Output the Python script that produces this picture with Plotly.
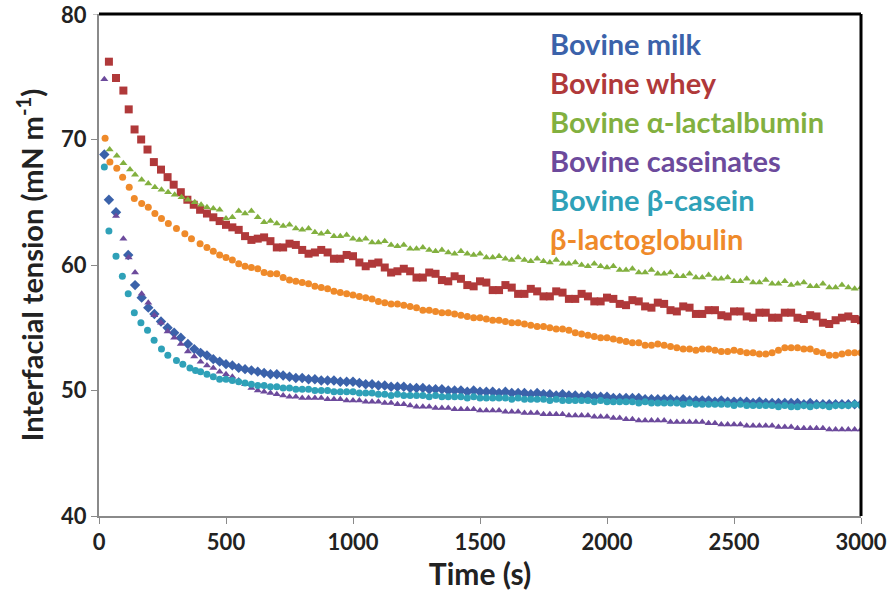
import plotly.graph_objects as go

# ---------------- data ----------------
SERIES_NAMES = ["Bovine milk", "Bovine whey", "Bovine α-lactalbumin",
                "Bovine caseinates", "Bovine β-casein", "β-lactoglobulin"]
COLORS = ["#3B62AA", "#B0393A", "#82B03F", "#6C4A9C", "#2FA1B8", "#EF8A2A"]

# common late sampling times (s)
T_LATE = list(range(425, 3001, 25))

# early part, per series
milk_t_early = [21, 39, 67, 115, 142, 168, 194, 218, 244, 270, 296, 322, 350, 375, 400]
milk_v_early = [68.8, 65.2, 64.2, 60.8, 58.4, 57.4, 56.6, 56.1, 55.5, 55.0, 54.6, 54.2, 53.7, 53.3, 53.0]

whey_t_early = [39, 67, 96, 117, 140, 166, 191, 216, 244, 270, 294, 322, 348, 373, 398]
whey_v_early = [76.2, 74.9, 73.9, 72.4, 70.8, 70.0, 69.2, 68.2, 67.6, 67.0, 66.4, 65.8, 65.2, 64.8, 64.4]

alac_t_early = [42, 70, 96, 122, 142, 168, 194, 220, 246, 272, 298, 325, 350, 377, 402]
alac_v_early = [69.2, 68.7, 68.1, 67.6, 67.2, 66.8, 66.5, 66.2, 66.0, 65.8, 65.6, 65.4, 65.2, 65.0, 64.8]

cas_t_early = [21, 67, 96, 117, 142, 168, 194, 218, 244, 270, 296, 322, 350, 375, 400]
cas_v_early = [74.8, 63.9, 62.1, 60.6, 59.4, 57.7, 57.0, 56.0, 55.4, 54.7, 54.2, 53.7, 53.1, 52.7, 52.3]

bcas_t_early = [21, 39, 67, 92, 115, 139, 165, 191, 217, 246, 271, 305, 330, 358, 380, 400]
bcas_v_early = [67.8, 62.7, 60.7, 59.1, 57.7, 56.2, 55.4, 54.8, 54.0, 53.3, 52.8, 52.4, 52.1, 51.8, 51.6, 51.5]

blg_t_early = [24, 43, 70, 93, 119, 139, 168, 194, 220, 246, 273, 305, 338, 364, 398]
blg_v_early = [70.1, 68.2, 67.7, 67.0, 66.2, 65.3, 64.9, 64.6, 64.1, 63.7, 63.3, 62.9, 62.5, 62.1, 61.7]

# late part values on T_LATE (425 .. 3000 step 25)
milk_v_late = [
    52.8, 52.5, 52.3, 52.1, 52.0, 51.8, 51.7, 51.6, 51.5, 51.4, 51.3, 51.3, 51.2, 51.1, 51.0, 51.0,
    50.9, 50.9, 50.8, 50.8, 50.8, 50.7, 50.7, 50.7, 50.6, 50.5, 50.5, 50.4, 50.4, 50.3, 50.3, 50.3,
    50.2, 50.2, 50.2, 50.1, 50.1, 50.1, 50.0, 50.0, 50.0, 49.9, 50.0, 49.9, 49.9, 49.9, 49.8, 49.9,
    49.8, 49.8, 49.8, 49.7, 49.8, 49.7, 49.7, 49.6, 49.7, 49.6, 49.6, 49.5, 49.6, 49.5, 49.5, 49.5,
    49.4, 49.4, 49.4, 49.4, 49.4, 49.3, 49.3, 49.3, 49.3, 49.3, 49.2, 49.3, 49.2, 49.2, 49.2, 49.2,
    49.1, 49.2, 49.1, 49.1, 49.1, 49.1, 49.0, 49.1, 49.0, 49.0, 49.0, 49.0, 49.0, 49.0, 48.9, 49.0,
    48.9, 48.9, 48.9, 48.9, 48.9, 48.9, 48.9, 48.9]

whey_v_late = [
    64.1, 63.8, 63.5, 63.2, 63.0, 62.8, 62.3, 62.0, 62.1, 62.2, 61.9, 61.4, 61.4, 61.7, 61.6, 61.2,
    60.9, 61.0, 61.2, 61.0, 60.5, 60.5, 60.8, 60.7, 60.2, 59.9, 60.1, 60.2, 59.8, 59.4, 59.5, 59.7,
    59.5, 59.0, 59.0, 59.4, 59.3, 58.8, 58.7, 59.1, 58.9, 58.4, 58.3, 58.7, 58.6, 58.0, 58.0, 58.4,
    58.2, 57.7, 57.7, 58.1, 57.9, 57.5, 57.5, 57.9, 57.8, 57.3, 57.3, 57.7, 57.5, 57.1, 57.1, 57.4,
    57.3, 56.9, 56.8, 57.2, 57.1, 56.7, 56.6, 57.0, 56.9, 56.4, 56.3, 56.7, 56.6, 56.1, 56.1, 56.4,
    56.4, 56.0, 55.9, 56.3, 56.3, 55.9, 55.8, 56.2, 56.2, 55.8, 55.8, 56.2, 56.2, 55.8, 55.7, 56.0,
    55.9, 55.4, 55.3, 55.6, 55.8, 55.9, 55.7, 55.6]

alac_v_late = [
    64.6, 64.5, 64.4, 63.7, 63.8, 64.3, 64.1, 64.3, 63.8, 63.4, 63.5, 63.3, 63.1, 63.2, 62.9, 62.8,
    62.9, 62.6, 62.5, 62.6, 62.3, 62.3, 62.4, 62.1, 62.0, 62.1, 61.8, 61.8, 61.9, 61.6, 61.5, 61.6,
    61.3, 61.3, 61.4, 61.2, 61.1, 61.2, 61.0, 60.9, 61.1, 60.9, 60.8, 60.9, 60.6, 60.6, 60.7, 60.5,
    60.4, 60.6, 60.4, 60.3, 60.5, 60.3, 60.2, 60.4, 60.1, 60.1, 60.2, 60.0, 59.9, 60.1, 59.9, 59.8,
    59.9, 59.6, 59.6, 59.7, 59.4, 59.4, 59.6, 59.3, 59.3, 59.4, 59.1, 59.1, 59.3, 59.0, 59.0, 59.2,
    58.9, 58.9, 59.0, 58.7, 58.7, 58.9, 58.6, 58.6, 58.8, 58.5, 58.5, 58.7, 58.4, 58.5, 58.6, 58.3,
    58.3, 58.5, 58.2, 58.2, 58.4, 58.2, 58.1, 58.2]

cas_v_late = [
    52.0, 51.8, 51.5, 51.3, 51.1, 50.8, 50.5, 50.2, 50.0, 49.9, 49.8, 49.7, 49.6, 49.5, 49.5, 49.4,
    49.4, 49.4, 49.4, 49.3, 49.3, 49.3, 49.2, 49.2, 49.2, 49.1, 49.1, 49.1, 49.0, 49.0, 48.9, 48.9,
    48.8, 48.7, 48.7, 48.7, 48.6, 48.6, 48.6, 48.5, 48.5, 48.5, 48.5, 48.4, 48.4, 48.4, 48.4, 48.3,
    48.3, 48.3, 48.2, 48.2, 48.2, 48.1, 48.1, 48.1, 48.1, 48.0, 48.0, 48.0, 48.0, 47.9, 47.9, 47.9,
    47.8, 47.8, 47.7, 47.7, 47.6, 47.6, 47.6, 47.6, 47.6, 47.5, 47.5, 47.5, 47.5, 47.5, 47.5, 47.4,
    47.4, 47.3, 47.3, 47.3, 47.3, 47.2, 47.2, 47.2, 47.2, 47.2, 47.1, 47.1, 47.1, 47.0, 47.0, 47.0,
    47.0, 47.0, 46.9, 46.9, 46.9, 46.9, 46.9, 46.9]

bcas_v_late = [
    51.3, 51.1, 50.9, 50.9, 50.8, 50.7, 50.6, 50.5, 50.4, 50.4, 50.3, 50.3, 50.2, 50.2, 50.1, 50.1,
    50.1, 50.0, 50.0, 50.0, 49.9, 49.9, 49.9, 49.9, 49.8, 49.8, 49.8, 49.7, 49.7, 49.6, 49.7, 49.6,
    49.6, 49.6, 49.6, 49.5, 49.6, 49.5, 49.5, 49.5, 49.5, 49.4, 49.5, 49.4, 49.4, 49.4, 49.4, 49.4,
    49.3, 49.4, 49.3, 49.3, 49.3, 49.3, 49.2, 49.3, 49.2, 49.2, 49.2, 49.2, 49.2, 49.1, 49.2, 49.1,
    49.1, 49.1, 49.1, 49.1, 49.0, 49.1, 49.0, 49.0, 49.0, 49.0, 49.0, 48.9, 49.0, 48.9, 48.9, 48.9,
    48.9, 48.9, 48.9, 48.8, 48.9, 48.8, 48.8, 48.8, 48.8, 48.8, 48.7, 48.8, 48.7, 48.7, 48.8, 48.7,
    48.8, 48.8, 48.7, 48.8, 48.8, 48.8, 48.9, 48.8]

blg_v_late = [
    61.4, 61.1, 60.8, 60.6, 60.4, 60.1, 59.9, 59.8, 59.7, 59.4, 59.3, 59.3, 59.0, 58.8, 58.7, 58.6,
    58.5, 58.3, 58.2, 58.1, 57.9, 57.8, 57.7, 57.6, 57.5, 57.4, 57.3, 57.1, 57.0, 56.9, 56.9, 56.8,
    56.7, 56.6, 56.4, 56.4, 56.3, 56.2, 56.2, 56.1, 56.0, 55.9, 55.8, 55.8, 55.7, 55.6, 55.6, 55.5,
    55.4, 55.4, 55.3, 55.2, 55.1, 55.1, 55.0, 54.9, 54.9, 54.8, 54.6, 54.5, 54.4, 54.3, 54.2, 54.2,
    54.1, 54.0, 53.9, 53.8, 53.8, 53.6, 53.6, 53.7, 53.6, 53.5, 53.4, 53.3, 53.3, 53.2, 53.3, 53.3,
    53.2, 53.1, 53.1, 53.2, 53.1, 53.0, 53.0, 52.9, 52.9, 53.0, 53.2, 53.4, 53.4, 53.4, 53.3, 53.3,
    53.1, 53.0, 52.8, 52.8, 52.9, 53.0, 53.0, 53.0]

X_TICKS = [0, 500, 1000, 1500, 2000, 2500, 3000]
Y_TICKS = [40, 50, 60, 70, 80]

series = [
    (milk_t_early, milk_v_early, milk_v_late, "diamond", 8),
    (whey_t_early, whey_v_early, whey_v_late, "square", 8),
    (alac_t_early, alac_v_early, alac_v_late, "triangle-up", 7),
    (cas_t_early, cas_v_early, cas_v_late, "triangle-up", 7),
    (bcas_t_early, bcas_v_early, bcas_v_late, "circle", 7),
    (blg_t_early, blg_v_early, blg_v_late, "circle", 7),
]

fig = go.Figure()
for name, color, (te, ve, vl, sym, sz) in zip(SERIES_NAMES, COLORS, series):
    assert len(vl) == len(T_LATE), (name, len(vl), len(T_LATE))
    fig.add_trace(go.Scatter(
        x=te + T_LATE, y=ve + vl, mode="markers", name=name,
        marker=dict(symbol=sym, size=sz, color=color, line=dict(width=0)),
        showlegend=False))

FONT = "Lato"
PLOT_L, PLOT_W = 99, 762
PLOT_TOP, PLOT_H = 14, 502
# legend as coloured text
for i, (name, color) in enumerate(zip(SERIES_NAMES, COLORS)):
    yc = 44 + 38.8 * i
    fig.add_annotation(xref="paper", yref="paper", x=(548 - PLOT_L) / PLOT_W, y=1 - (yc - PLOT_TOP) / PLOT_H,
                       text=f"<b>{name}</b>", showarrow=False, xanchor="left", yanchor="middle",
                       font=dict(family=FONT, size=29, color=color))

# top tick label (kept as text so it is not culled at the plot edge)
fig.add_annotation(xref="paper", yref="y", x=0, y=Y_TICKS[-1], xshift=-10, xanchor="right",
                   yanchor="middle", showarrow=False, text=f"<b>{Y_TICKS[-1]}</b>",
                   font=dict(family=FONT, size=22, color="#222"))

fig.update_layout(
    width=893, height=602,
    margin=dict(l=PLOT_L, r=32, t=PLOT_TOP, b=86),
    paper_bgcolor="white", plot_bgcolor="white",
    font=dict(family=FONT, color="#222"),
    xaxis=dict(range=[0, 3000], tickvals=X_TICKS, ticks="outside", ticklen=6, tickcolor="#8a8a8a",
               showline=True, linecolor="#8a8a8a", linewidth=2, showgrid=False, zeroline=False,
               automargin=False,
               tickfont=dict(family=FONT, size=22, color="#222", weight="bold"),
               title=dict(text="<b>Time (s)</b>", font=dict(family=FONT, size=30, color="#222"), standoff=2)),
    yaxis=dict(range=[40, 80], tickvals=Y_TICKS[:-1], ticks="outside", ticklen=6, tickcolor="#8a8a8a",
               showline=True, linecolor="#8a8a8a", linewidth=2, showgrid=False, zeroline=False,
               automargin=False,
               tickfont=dict(family=FONT, size=22, color="#222", weight="bold"),
               title=dict(text="<b>Interfacial tension (mN m<sup>-1</sup>)</b>",
                          font=dict(family=FONT, size=29, color="#222"), standoff=9)),
    shapes=[
        dict(type="line", xref="paper", yref="paper", x0=0, x1=1, y0=1, y1=1,
             line=dict(color="black", width=3)),
        dict(type="line", xref="paper", yref="paper", x0=1, x1=1, y0=0, y1=1,
             line=dict(color="black", width=3)),
        dict(type="line", xref="paper", yref="y", x0=-6 / PLOT_W, x1=0, y0=Y_TICKS[-1], y1=Y_TICKS[-1],
             line=dict(color="#8a8a8a", width=1)),
    ],
)

fig.write_html("out.html", config={"displayModeBar": False},
               post_script="document.body.style.margin='0';")
